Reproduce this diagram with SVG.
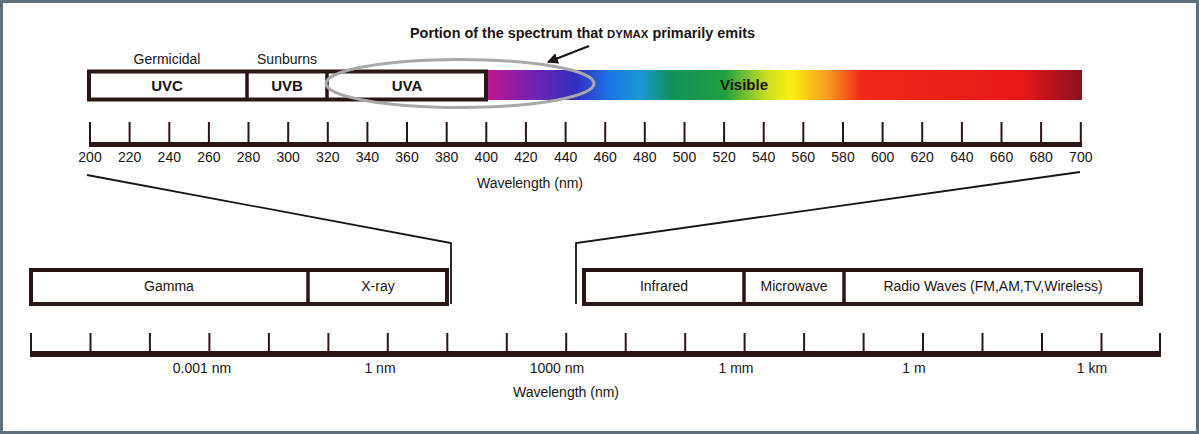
<svg xmlns="http://www.w3.org/2000/svg" width="1199" height="434" viewBox="0 0 1199 434">
<defs>
<style>
text{font-family:"Liberation Sans",Arial,sans-serif;fill:#1a1414;}
.lbl{font-size:14px;text-anchor:middle;}
.b{font-weight:bold;font-size:15px;text-anchor:middle;}
.box{fill:#fff;stroke:#2a1414;stroke-width:4;}
.div{stroke:#2a1414;stroke-width:3.5;}
.tick{stroke:#2a1414;stroke-width:2;}
.base{fill:#2a1414;}
.zl{stroke:#1a1414;stroke-width:1.8;fill:none;}
</style>
<linearGradient id="spec" x1="487" y1="0" x2="1082" y2="0" gradientUnits="userSpaceOnUse">
<stop offset="0" stop-color="#c0188c"/>
<stop offset="0.07" stop-color="#7a20b0"/>
<stop offset="0.15" stop-color="#3030c0"/>
<stop offset="0.21" stop-color="#1a78e8"/>
<stop offset="0.26" stop-color="#1a98d0"/>
<stop offset="0.31" stop-color="#10905a"/>
<stop offset="0.4" stop-color="#22a040"/>
<stop offset="0.47" stop-color="#c8e020"/>
<stop offset="0.51" stop-color="#f8f010"/>
<stop offset="0.57" stop-color="#f8a020"/>
<stop offset="0.63" stop-color="#f02818"/>
<stop offset="0.9" stop-color="#e81818"/>
<stop offset="1" stop-color="#8a1020"/>
</linearGradient>
<marker id="ah" viewBox="0 0 10 10" refX="9" refY="5" markerWidth="11" markerHeight="11" markerUnits="userSpaceOnUse" orient="auto">
<path d="M0,0 L10,5 L0,10 z" fill="#1a1414"/>
</marker>
</defs>
<rect x="0" y="0" width="1199" height="434" fill="#fff"/>
<rect x="1.5" y="1.5" width="1196" height="431" fill="none" stroke="#5f6f7c" stroke-width="3"/>

<g id="title">
<text x="410" y="38" font-weight="bold" font-size="14.5" textLength="345" lengthAdjust="spacingAndGlyphs">Portion of the spectrum that <tspan font-size="11.5">DYMAX</tspan> primarily emits</text>
</g>

<g id="top-bar">
<rect x="487" y="70" width="595" height="30" fill="url(#spec)"/>
<rect class="box" x="89" y="71.5" width="397" height="28"/>
<line class="div" x1="247" y1="71" x2="247" y2="100"/>
<line class="div" x1="327" y1="71" x2="327" y2="100"/>
</g>
<g id="uvc"><text class="lbl" x="167" y="64">Germicidal</text><text class="b" x="167" y="91">UVC</text></g>
<g id="uvb"><text class="lbl" x="287" y="64">Sunburns</text><text class="b" x="287" y="91">UVB</text></g>
<g id="uva"><text class="b" x="407" y="91">UVA</text></g>
<g id="visible"><text class="b" x="744" y="90">Visible</text></g>
<g id="ellipse"><ellipse cx="460" cy="83.5" rx="134" ry="24" fill="none" stroke="#a8a8a8" stroke-width="3"/></g>

<g id="top-ruler">
<rect class="base" x="89" y="142" width="993" height="5"/>
<g class="tick">
<line x1="90" y1="122" x2="90" y2="144"/><line x1="129.6" y1="122" x2="129.6" y2="144"/><line x1="169.3" y1="122" x2="169.3" y2="144"/><line x1="208.9" y1="122" x2="208.9" y2="144"/><line x1="248.5" y1="122" x2="248.5" y2="144"/><line x1="288.2" y1="122" x2="288.2" y2="144"/><line x1="327.8" y1="122" x2="327.8" y2="144"/><line x1="367.4" y1="122" x2="367.4" y2="144"/><line x1="407" y1="122" x2="407" y2="144"/><line x1="446.7" y1="122" x2="446.7" y2="144"/><line x1="486.3" y1="122" x2="486.3" y2="144"/><line x1="525.9" y1="122" x2="525.9" y2="144"/><line x1="565.6" y1="122" x2="565.6" y2="144"/><line x1="605.2" y1="122" x2="605.2" y2="144"/><line x1="644.8" y1="122" x2="644.8" y2="144"/><line x1="684.5" y1="122" x2="684.5" y2="144"/><line x1="724.1" y1="122" x2="724.1" y2="144"/><line x1="763.7" y1="122" x2="763.7" y2="144"/><line x1="803.3" y1="122" x2="803.3" y2="144"/><line x1="843" y1="122" x2="843" y2="144"/><line x1="882.6" y1="122" x2="882.6" y2="144"/><line x1="922.2" y1="122" x2="922.2" y2="144"/><line x1="961.9" y1="122" x2="961.9" y2="144"/><line x1="1001.5" y1="122" x2="1001.5" y2="144"/><line x1="1041.1" y1="122" x2="1041.1" y2="144"/><line x1="1080.8" y1="122" x2="1080.8" y2="144"/>
</g>
<g>
<text class="lbl" x="90" y="162">200</text><text class="lbl" x="129.6" y="162">220</text><text class="lbl" x="169.3" y="162">240</text><text class="lbl" x="208.9" y="162">260</text><text class="lbl" x="248.5" y="162">280</text><text class="lbl" x="288.2" y="162">300</text><text class="lbl" x="327.8" y="162">320</text><text class="lbl" x="367.4" y="162">340</text><text class="lbl" x="407" y="162">360</text><text class="lbl" x="446.7" y="162">380</text><text class="lbl" x="486.3" y="162">400</text><text class="lbl" x="525.9" y="162">420</text><text class="lbl" x="565.6" y="162">440</text><text class="lbl" x="605.2" y="162">460</text><text class="lbl" x="644.8" y="162">480</text><text class="lbl" x="684.5" y="162">500</text><text class="lbl" x="724.1" y="162">520</text><text class="lbl" x="763.7" y="162">540</text><text class="lbl" x="803.3" y="162">560</text><text class="lbl" x="843" y="162">580</text><text class="lbl" x="882.6" y="162">600</text><text class="lbl" x="922.2" y="162">620</text><text class="lbl" x="961.9" y="162">640</text><text class="lbl" x="1001.5" y="162">660</text><text class="lbl" x="1041.1" y="162">680</text><text class="lbl" x="1080.8" y="162">700</text>
</g>
<text class="lbl" x="530" y="188">Wavelength (nm)</text>
</g>

<g id="connectors">
<line x1="589" y1="46" x2="548" y2="62" stroke="#1a1414" stroke-width="2" marker-end="url(#ah)"/>
<polyline class="zl" points="87,175 451,243 451,304"/>
<polyline class="zl" points="1080,172 576,243 576,304"/>
</g>

<g id="left-bar">
<rect class="box" x="31" y="270" width="416" height="34"/>
<line class="div" x1="308" y1="270" x2="308" y2="304"/>
</g>
<g id="gamma"><text class="lbl" x="169" y="291">Gamma</text></g>
<g id="xray"><text class="lbl" x="378" y="291">X-ray</text></g>

<g id="right-bar">
<rect class="box" x="584" y="270" width="557" height="34"/>
<line class="div" x1="744" y1="270" x2="744" y2="304"/>
<line class="div" x1="844" y1="270" x2="844" y2="304"/>
</g>
<g id="infrared"><text class="lbl" x="664" y="291">Infrared</text></g>
<g id="microwave"><text class="lbl" x="794" y="291">Microwave</text></g>
<g id="radio"><text class="lbl" x="993" y="291">Radio Waves (FM,AM,TV,Wireless)</text></g>

<g id="bottom-ruler">
<rect class="base" x="30" y="351" width="1131" height="6"/>
<g class="tick">
<line x1="31" y1="333" x2="31" y2="353"/><line x1="90.5" y1="333" x2="90.5" y2="353"/><line x1="149.9" y1="333" x2="149.9" y2="353"/><line x1="209.4" y1="333" x2="209.4" y2="353"/><line x1="268.9" y1="333" x2="268.9" y2="353"/><line x1="328.4" y1="333" x2="328.4" y2="353"/><line x1="387.8" y1="333" x2="387.8" y2="353"/><line x1="447.3" y1="333" x2="447.3" y2="353"/><line x1="506.8" y1="333" x2="506.8" y2="353"/><line x1="566.2" y1="333" x2="566.2" y2="353"/><line x1="625.7" y1="333" x2="625.7" y2="353"/><line x1="685.2" y1="333" x2="685.2" y2="353"/><line x1="744.6" y1="333" x2="744.6" y2="353"/><line x1="804.1" y1="333" x2="804.1" y2="353"/><line x1="863.6" y1="333" x2="863.6" y2="353"/><line x1="923" y1="333" x2="923" y2="353"/><line x1="982.5" y1="333" x2="982.5" y2="353"/><line x1="1042" y1="333" x2="1042" y2="353"/><line x1="1101.5" y1="333" x2="1101.5" y2="353"/><line x1="1160" y1="333" x2="1160" y2="353"/>
</g>
<text class="lbl" x="202" y="373">0.001 nm</text>
<text class="lbl" x="380" y="373">1 nm</text>
<text class="lbl" x="557" y="373">1000 nm</text>
<text class="lbl" x="736" y="373">1 mm</text>
<text class="lbl" x="914" y="373">1 m</text>
<text class="lbl" x="1092" y="373">1 km</text>
<text class="lbl" x="566" y="397">Wavelength (nm)</text>
</g>
</svg>
